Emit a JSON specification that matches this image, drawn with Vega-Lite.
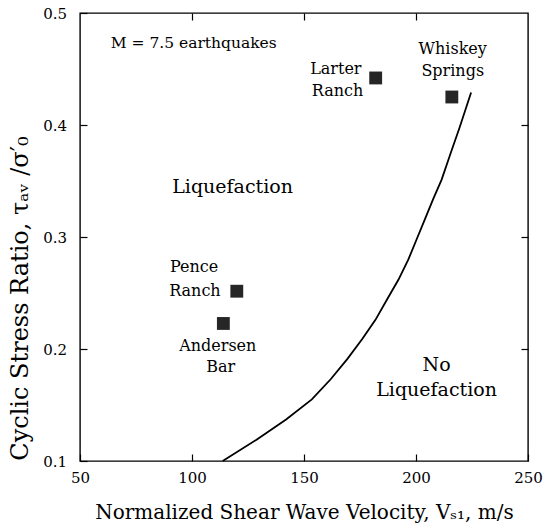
{
  "$schema": "https://vega.github.io/schema/vega-lite/v6.json",
  "width": 448,
  "height": 448,
  "autosize": {"type": "none"},
  "padding": {"left": 80, "top": 13, "right": 15, "bottom": 67},
  "background": "white",
  "config": {
    "view": {"stroke": "black", "strokeWidth": 1.4},
    "axis": {
      "grid": false,
      "domain": false,
      "tickColor": "black",
      "tickWidth": 1.2,
      "tickSize": -7,
      "labelColor": "black",
      "labelFont": "DejaVu Serif",
      "labelFontSize": 15,
      "labelFlush": false,
      "labelOverlap": false,
      "titleColor": "black",
      "titleFont": "DejaVu Serif",
      "titleFontWeight": "normal"
    }
  },
  "datasets": {
    "curve": [
      {"v": 113.7, "csr": 0.100},
      {"v": 128.8, "csr": 0.119},
      {"v": 142.0, "csr": 0.137},
      {"v": 153.5, "csr": 0.155},
      {"v": 161.9, "csr": 0.173},
      {"v": 169.3, "csr": 0.191},
      {"v": 176.0, "csr": 0.209},
      {"v": 181.9, "csr": 0.226},
      {"v": 187.0, "csr": 0.244},
      {"v": 192.2, "csr": 0.262},
      {"v": 196.6, "csr": 0.280},
      {"v": 200.3, "csr": 0.298},
      {"v": 204.0, "csr": 0.316},
      {"v": 207.7, "csr": 0.334},
      {"v": 211.4, "csr": 0.351},
      {"v": 215.5, "csr": 0.375},
      {"v": 219.5, "csr": 0.398},
      {"v": 224.6, "csr": 0.429}
    ],
    "sites": [
      {"site": "Larter Ranch", "v": 182, "csr": 0.442},
      {"site": "Whiskey Springs", "v": 216, "csr": 0.425},
      {"site": "Pence Ranch", "v": 120, "csr": 0.2516},
      {"site": "Andersen Bar", "v": 114, "csr": 0.2228}
    ],
    "labels": [
      {"text": "Larter", "v": 164.2, "csr": 0.4496, "kind": "site"},
      {"text": "Ranch", "v": 165.0, "csr": 0.430, "kind": "site"},
      {"text": "Whiskey", "v": 216.4, "csr": 0.4683, "kind": "site"},
      {"text": "Springs", "v": 216.4, "csr": 0.448, "kind": "site"},
      {"text": "Pence", "v": 100.9, "csr": 0.2728, "kind": "site"},
      {"text": "Ranch", "v": 101.3, "csr": 0.2516, "kind": "site"},
      {"text": "Andersen", "v": 111.5, "csr": 0.2025, "kind": "site"},
      {"text": "Bar", "v": 112.8, "csr": 0.1835, "kind": "site"},
      {"text": "Liquefaction", "v": 118.1, "csr": 0.3442, "kind": "region"},
      {"text": "No", "v": 209.2, "csr": 0.1853, "kind": "region"},
      {"text": "Liquefaction", "v": 209.2, "csr": 0.1638, "kind": "region"},
      {"text": "M = 7.5 earthquakes", "v": 63.7, "csr": 0.4728, "kind": "note"}
    ]
  },
  "layer": [
    {
      "data": {"name": "curve"},
      "mark": {"type": "line", "color": "black", "strokeWidth": 1.8},
      "encoding": {
        "x": {
          "field": "v", "type": "quantitative",
          "scale": {"domain": [50, 250], "nice": false, "zero": false},
          "axis": {
            "orient": "bottom",
            "values": [50, 100, 150, 200, 250],
            "labelPadding": 16.5,
            "title": "Normalized Shear Wave Velocity, Vₛ₁, m/s",
            "titleFontSize": 20,
            "titleY": 57,
            "titleX": 224,
            "titleBaseline": "alphabetic",
            "titleAlign": "center"
          }
        },
        "y": {
          "field": "csr", "type": "quantitative",
          "scale": {"domain": [0.1, 0.5], "nice": false, "zero": false},
          "axis": {
            "orient": "left",
            "values": [0.1, 0.2, 0.3, 0.4, 0.5],
            "format": ".1f",
            "labelPadding": 20.5,
            "title": "Cyclic Stress Ratio,  τₐᵥ /σ′₀",
            "titleFontSize": 24,
            "titleX": -60,
            "titleY": 285,
            "titleAngle": -90,
            "titleBaseline": "middle",
            "titleAlign": "center"
          }
        }
      }
    },
    {
      "data": {"name": "sites"},
      "mark": {"type": "point", "shape": "square", "filled": true, "size": 165, "color": "#262626", "opacity": 1},
      "encoding": {
        "x": {
          "field": "v", "type": "quantitative",
          "scale": {"domain": [50, 250], "nice": false, "zero": false},
          "axis": {"orient": "top", "values": [100, 150, 200], "labels": false, "title": null}
        },
        "y": {
          "field": "csr", "type": "quantitative",
          "scale": {"domain": [0.1, 0.5], "nice": false, "zero": false},
          "axis": {"orient": "right", "values": [0.2, 0.3, 0.4], "labels": false, "title": null}
        }
      }
    },
    {
      "data": {"name": "labels"},
      "transform": [{"filter": "datum.kind === 'site'"}],
      "mark": {"type": "text", "font": "DejaVu Serif", "fontSize": 16, "align": "center", "baseline": "middle", "color": "black"},
      "encoding": {
        "x": {"field": "v", "type": "quantitative", "scale": {"domain": [50, 250], "nice": false, "zero": false}, "axis": null},
        "y": {"field": "csr", "type": "quantitative", "scale": {"domain": [0.1, 0.5], "nice": false, "zero": false}, "axis": null},
        "text": {"field": "text"}
      }
    },
    {
      "data": {"name": "labels"},
      "transform": [{"filter": "datum.kind === 'region'"}],
      "mark": {"type": "text", "font": "DejaVu Serif", "fontSize": 19, "align": "center", "baseline": "middle", "color": "black"},
      "encoding": {
        "x": {"field": "v", "type": "quantitative", "scale": {"domain": [50, 250], "nice": false, "zero": false}, "axis": null},
        "y": {"field": "csr", "type": "quantitative", "scale": {"domain": [0.1, 0.5], "nice": false, "zero": false}, "axis": null},
        "text": {"field": "text"}
      }
    },
    {
      "data": {"name": "labels"},
      "transform": [{"filter": "datum.kind === 'note'"}],
      "mark": {"type": "text", "font": "DejaVu Serif", "fontSize": 15.5, "align": "left", "baseline": "middle", "color": "black"},
      "encoding": {
        "x": {"field": "v", "type": "quantitative", "scale": {"domain": [50, 250], "nice": false, "zero": false}, "axis": null},
        "y": {"field": "csr", "type": "quantitative", "scale": {"domain": [0.1, 0.5], "nice": false, "zero": false}, "axis": null},
        "text": {"field": "text"}
      }
    }
  ],
  "resolve": {"axis": {"x": "independent", "y": "independent"}}
}
